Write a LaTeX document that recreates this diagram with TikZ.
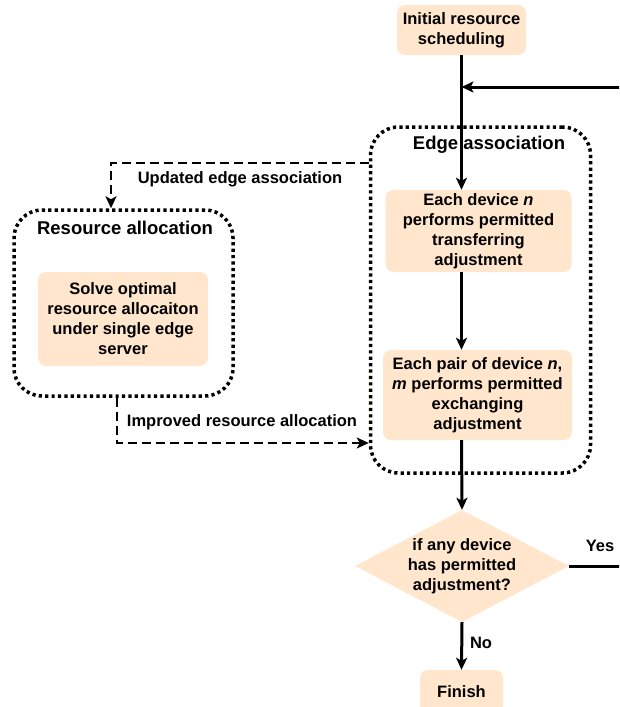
\documentclass[tikz,border=0pt]{standalone}
\usepackage{fontspec}
\setmainfont{Liberation Sans}
\usetikzlibrary{shapes.geometric,arrows.meta}
\definecolor{boxfill}{HTML}{FFE6CC}
\tikzset{
  stepbox/.style={fill=boxfill, rounded corners=8pt, align=center, inner sep=0pt},
  groupbox/.style={draw, line width=3.5pt, dash pattern=on 3.2pt off 3.2pt, rounded corners=28pt, inner sep=0pt},
  grouplab/.style={font=\fontsize{18.5}{22}\selectfont\bfseries},
  decbox/.style={diamond, fill=boxfill, inner sep=0pt, minimum width=214pt, minimum height=112pt},
  tip/.style={-{Stealth[length=12pt,width=11pt,inset=3pt]}},
  flow/.style={line width=3pt, tip},
  feed/.style={line width=2.8pt, dash pattern=on 9pt off 5pt, tip},
}
\begin{document}
\begin{tikzpicture}[x=1pt, y=-1pt, font=\fontsize{16.5}{20}\selectfont\bfseries]
			\useasboundingbox (0,0) rectangle (619,707);
			\clip (0,0) rectangle (619,707);
			
			% dotted groups
			\node[groupbox, minimum width=220pt, minimum height=346pt] (ea) at (480.5,300) {};
			\node[groupbox, minimum width=219pt, minimum height=186pt] (ra) at (123.5,303) {};
			\draw 
			(489,145) node[grouplab](ealab){Edge association}
			(125,228) node[grouplab](ralab){Resource allocation};
			
			% steps
			\draw 
			(461.5,30) node[stepbox, minimum width=129pt, minimum height=50pt](init){Initial resource\\scheduling}
			(478.5,231) node[stepbox, minimum width=186pt, minimum height=82pt](dev){Each device \textit{n}\\performs permitted\\transferring\\adjustment}
			(477.5,395) node[stepbox, minimum width=189pt, minimum height=90pt](pair){Each pair of device \textit{n},\\\textit{m} performs permitted\\exchanging\\adjustment}
			(123,319) node[stepbox, minimum width=170pt, minimum height=94pt](solve){Solve optimal\\resource allocaiton\\under single edge\\server}
			(462,566) node[decbox, label={[align=center]center:if any device\\has permitted\\adjustment?}](dec){}
			(461.5,692) node[stepbox, minimum width=83pt, minimum height=44pt](fin){Finish};
			\coordinate (back) at (init.south |- 0,87);
			
			% main flow
			\draw[flow] (init.south) -- (init.south |- dev.north);
			\draw[flow] (init.south |- dev.south) -- (init.south |- pair.north);
			\draw[flow] (init.south |- pair.south) -- (dec.north);
			\draw[flow] (dec.south) -- (fin.north);
			\draw[flow] (dec.east) -- ++(80,0) |- (back);
			\draw 
			(600,546) node(yes){Yes} (481,643) node(no){No};
			
			% between the groups
			\draw[feed] ([yshift=137pt]ea.west) -| ([xshift=-12.5pt]ra.north);
			\draw[feed] ([xshift=-6.5pt]ra.south) |- ([yshift=-143pt]ea.west);
			\draw 
			(240,179) node(upd){Updated edge association}
			(242,422) node(imp){Improved resource allocation};
			
		\end{tikzpicture}
\end{document}
